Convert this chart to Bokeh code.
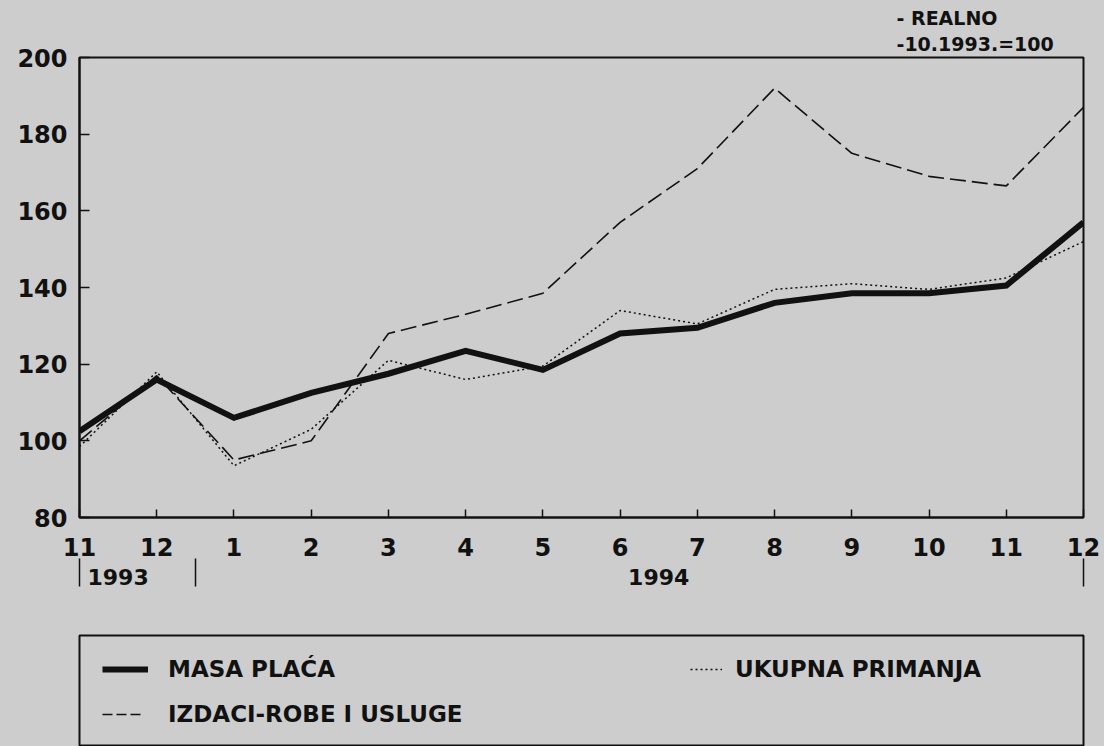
from bokeh.plotting import figure
from bokeh.models import (Range1d, FixedTicker, LinearAxis, Legend, LegendItem, Title)
from bokeh.layouts import column
from bokeh.embed import file_html
from bokeh.resources import INLINE

# ---- data ----
months = ["11", "12", "1", "2", "3", "4", "5", "6", "7", "8", "9", "10", "11", "12"]
masa_placa = [102.5, 116, 106, 112.5, 117.5, 123.5, 118.5, 128, 129.5, 136, 138.5, 138.5, 140.5, 157]
izdaci = [100, 117, 95, 100, 128, 133, 138.5, 157, 171, 192, 175, 169, 166.5, 187]
ukupna = [98.5, 118, 93.5, 103, 121, 116, 119.5, 134, 130.5, 139.5, 141, 139.5, 142.5, 152]
y_ticks = [80, 100, 120, 140, 160, 180, 200]
year_labels = ["1993", "1994"]
year_pos = [0.5, 7.5]
year_marks = [0, 1.5, 13]
note_lines = ["- REALNO", "-10.1993.=100"]

x = list(range(len(months)))

BG = "#cdcdcd"
INK = "#111111"
FONT = "DejaVu Sans"

# ---------------- main chart ----------------
p = figure(width=1104, height=600, output_backend="svg", toolbar_location=None,
           x_range=Range1d(0, len(months) - 1), y_range=Range1d(80, 200),
           min_border_left=78, min_border_right=19, min_border_top=57, min_border_bottom=83)
p.background_fill_color = BG
p.border_fill_color = BG
p.outline_line_color = INK
p.outline_line_width = 2
p.grid.visible = False

p.xaxis.ticker = FixedTicker(ticks=x)
p.xaxis.major_label_overrides = {i: m for i, m in enumerate(months)}
p.yaxis.ticker = FixedTicker(ticks=y_ticks)
for ax in (p.xaxis, p.yaxis):
    ax.axis_line_color = INK
    ax.axis_line_width = 2
    ax.major_tick_line_color = INK
    ax.major_tick_line_width = 1.5
    ax.major_tick_out = 0
    ax.minor_tick_line_color = None
    ax.major_label_text_font = FONT
    ax.major_label_text_font_style = "bold"
    ax.major_label_text_font_size = "24px"
    ax.major_label_text_color = INK
p.xaxis.major_tick_in = 8
p.yaxis.major_tick_in = 10
p.xaxis.major_label_standoff = 20
p.yaxis.major_label_standoff = 12

# year axis: labels 1993 / 1994 and separator bars (minor ticks)
year_axis = LinearAxis(ticker=FixedTicker(ticks=year_pos, minor_ticks=year_marks),
                       major_label_overrides={t: l for t, l in zip(year_pos, year_labels)},
                       axis_line_color=None, major_tick_line_color=None,
                       major_tick_in=0, major_tick_out=0,
                       minor_tick_in=0, minor_tick_out=28,
                       minor_tick_line_color=INK, minor_tick_line_width=1.5,
                       major_label_standoff=-18, major_label_text_font=FONT,
                       major_label_text_font_style="bold", major_label_text_font_size="22px",
                       major_label_text_color=INK)
p.add_layout(year_axis, "below")

# note in the top right corner (two stacked titles; the added one is nearest the frame)
p.title.text = note_lines[0]
p.title.align = "left"
p.title.offset = 817
p.title.standoff = 0
p.title.text_font = FONT
p.title.text_font_style = "bold"
p.title.text_font_size = "19px"
p.title.text_color = INK
p.add_layout(Title(text=note_lines[1], align="left", offset=817, standoff=5,
                   text_font=FONT, text_font_style="bold", text_font_size="19px",
                   text_color=INK), "above")

p.line(x, izdaci, line_color=INK, line_width=1.6, line_dash="16 6")
p.line(x, ukupna, line_color=INK, line_width=1.5, line_dash="2 3")
p.line(x, masa_placa, line_color=INK, line_width=6, line_join="miter")

# ---------------- legend box ----------------
lg = figure(width=1104, height=146, output_backend="svg", toolbar_location=None,
            x_range=Range1d(0, 1), y_range=Range1d(0, 1),
            x_axis_type=None, y_axis_type=None,
            min_border_left=79, min_border_right=21, min_border_top=35, min_border_bottom=0)
lg.background_fill_color = BG
lg.border_fill_color = BG
lg.outline_line_color = INK
lg.outline_line_width = 2
lg.grid.visible = False

# same series (outside this box's visible range) used as legend keys
k_masa = lg.line(x, masa_placa, line_color=INK, line_width=6)
k_uk = lg.line(x, ukupna, line_color=INK, line_width=1.5, line_dash="2 3")
k_izd = lg.line(x, izdaci, line_color=INK, line_width=1.6, line_dash="10 4")

common = dict(label_text_font=FONT, label_text_font_style="bold", label_text_font_size="23px",
              label_text_color=INK, glyph_height=30, label_height=30, margin=0, padding=0,
              background_fill_alpha=0, border_line_alpha=0)
lg.add_layout(Legend(items=[LegendItem(label="MASA PLAĆA", renderers=[k_masa])],
                     location=(23, 62), glyph_width=46, label_standoff=20, **common))
lg.add_layout(Legend(items=[LegendItem(label="UKUPNA PRIMANJA", renderers=[k_uk])],
                     location=(611, 62), glyph_width=32, label_standoff=13, **common))
lg.add_layout(Legend(items=[LegendItem(label="IZDACI-ROBE I USLUGE", renderers=[k_izd])],
                     location=(23, 17), glyph_width=40, label_standoff=26, **common))

layout = column(p, lg, spacing=0)
html = file_html(layout, INLINE)
html = html.replace("</head>", "<style>html, body { background: %s !important; }</style></head>" % BG, 1)
open("out.html", "w").write(html)
